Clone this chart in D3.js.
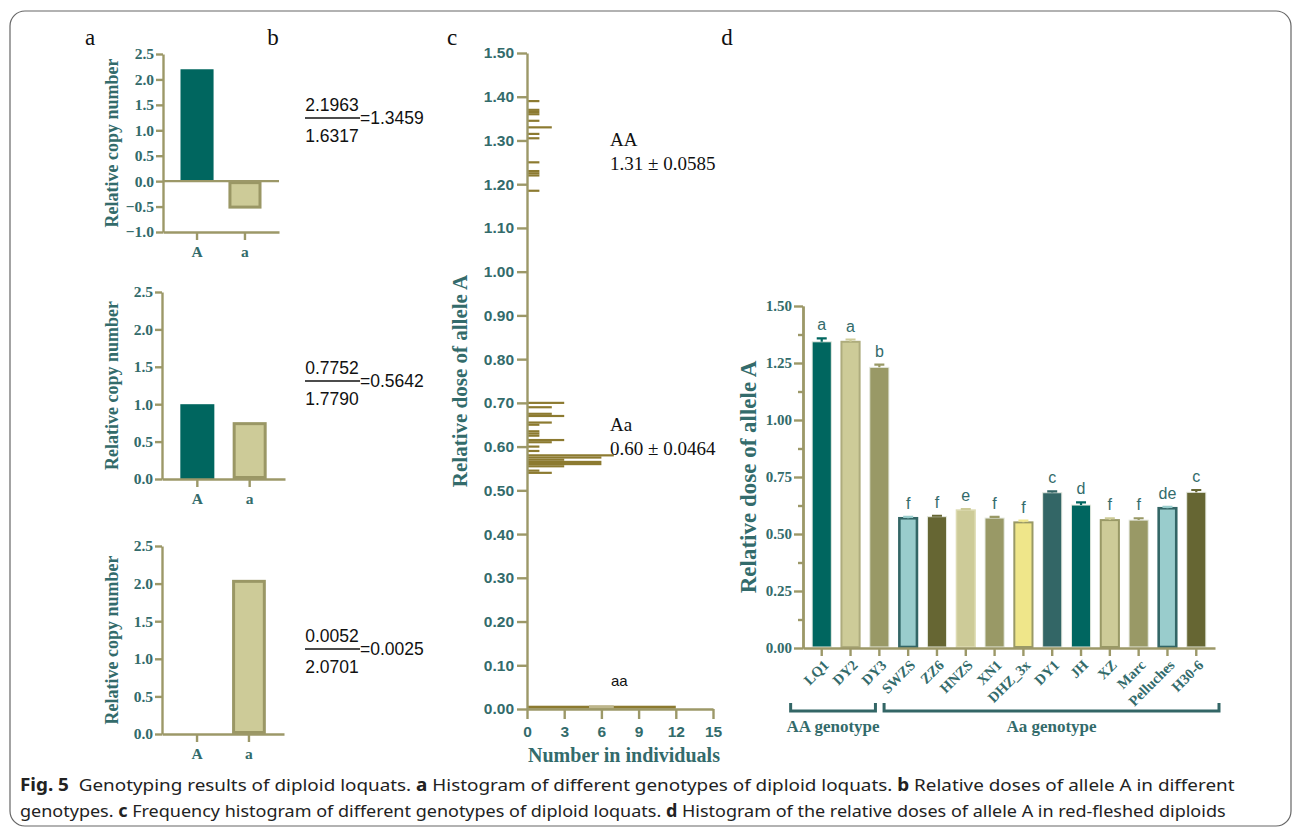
<!DOCTYPE html>
<html>
<head>
<meta charset="utf-8">
<script src="https://cdn.jsdelivr.net/npm/d3@7"></script>
<style>
  body { margin: 0; background: #fff; }
  svg { display: block; }
</style>
</head>
<body>
<svg id="fig" width="1295" height="829"></svg>
<script>
// ---------- data ----------
const genes = ["A", "a"];
const copyAA = [2.2, -0.54];
const copyAa = [1.0, 0.76];
const copyaa = [0, 2.05];

const ratioNum = ["2.1963", "0.7752", "0.0052"];
const ratioDen = ["1.6317", "1.7790", "2.0701"];
const ratioVal = ["1.3459", "0.5642", "0.0025"];

// frequency histogram (panel c): dose bin -> number of individuals
const histDose = [1.39, 1.37, 1.365, 1.36, 1.345, 1.33, 1.315, 1.305, 1.25, 1.23, 1.225, 1.22, 1.185,
  0.70, 0.69, 0.675, 0.67, 0.655, 0.65, 0.635, 0.63, 0.625, 0.615, 0.61, 0.60, 0.59, 0.58, 0.575,
  0.57, 0.565, 0.56, 0.555, 0.545, 0.54,
  0.005];
const histCount = [1, 1, 1, 1, 1, 2, 1, 1, 1, 1, 1, 1, 1,
  3, 2, 2, 3, 2, 1, 1, 1, 1, 3, 2, 1, 1, 7, 6,
  3, 6, 6, 3, 1, 2,
  12];
const aaLight = [5, 7];
const genoNames = ["AA", "Aa"];
const genoStats = ["1.31 \u00b1 0.0585", "0.60 \u00b1 0.0464"];
const genoAt = [1.294, 0.643];

// panel d
const cultivars = ["LQ1", "DY2", "DY3", "SWZS", "ZZ6", "HNZS", "XN1", "DHZ_3x", "DY1", "JH", "XZ", "Marc", "Pelluches", "H30-6"];
const doseMean = [1.343, 1.343, 1.231, 0.569, 0.576, 0.605, 0.570, 0.551, 0.681, 0.627, 0.561, 0.561, 0.613, 0.683];
const doseErr = [0.015, 0.010, 0.012, 0.006, 0.004, 0.004, 0.005, 0.008, 0.006, 0.012, 0.008, 0.008, 0.006, 0.010];
const sigLetters = ["a", "a", "b", "f", "f", "e", "f", "f", "c", "d", "f", "f", "de", "c"];
const groupNames = ["AA genotype", "Aa genotype"];
const groupFirst = ["LQ1", "SWZS"];
const groupLast = ["DY3", "H30-6"];

// ---------- style ----------
const TEAL = "#336b6b";
const AXIS = "#9c9868";
const HIST = "#8c7a30";
const SERIF = "'Liberation Serif', 'Times New Roman', serif";
const SANS = "'Liberation Sans', Arial, sans-serif";
const barFill = ["#00665f", "#cdcb98", "#999966", "#99cccc", "#666633", "#cdcb98", "#999966",
  "#efe68a", "#336666", "#006660", "#cdcb98", "#999966", "#99cccc", "#666633"];
const barStroke = ["#e6eae0", "#aeac7d", "#e6eae0", "#336666", "#e6eae0", "#dddbb2", "#e6eae0",
  "#999966", "#e6eae0", "#e6eae0", "#999966", "#e6eae0", "#336666", "#e6eae0"];
const barStrokeW = [1, 2, 1, 2.6, 1, 1.5, 1, 2, 1, 1, 2, 1, 2.6, 1];

const svg = d3.select("#fig");

function styleAxis(g, fontFamily, size) {
  g.select(".domain").attr("stroke", AXIS).attr("stroke-width", 2.4);
  g.selectAll(".tick line").attr("stroke", AXIS).attr("stroke-width", 2.4);
  g.selectAll(".tick text")
    .attr("fill", TEAL)
    .attr("font-family", fontFamily)
    .attr("font-weight", "bold")
    .attr("font-size", size);
}

// frame
svg.append("rect")
  .attr("x", 10).attr("y", 11)
  .attr("width", 1281).attr("height", 815)
  .attr("rx", 15)
  .attr("fill", "none")
  .attr("stroke", "#666")
  .attr("stroke-width", 1.2);

// panel letters
[["a", 90], ["b", 273], ["c", 452], ["d", 727]].forEach(([t, x]) => {
  svg.append("text").attr("x", x).attr("y", 45)
    .attr("text-anchor", "middle")
    .attr("font-family", SERIF).attr("font-size", 23)
    .attr("fill", "#111").text(t);
});

// ---------- panel a ----------
function copyPanel(vals, o) {
  const y = d3.scaleLinear().domain(o.dom).range([o.yBot, o.yTop]);
  const x = d3.scaleBand().domain(genes).range([o.x0, o.x1])
    .paddingInner(o.pi).paddingOuter(o.po);
  const g = svg.append("g");

  g.selectAll("rect.bar").data(vals).join("rect")
    .attr("class", "bar")
    .attr("x", (d, i) => x(genes[i]) + (i ? 1.5 : 0))
    .attr("width", (d, i) => x.bandwidth() - (i ? 3 : 0))
    .attr("y", (d, i) => Math.min(y(d), y(0)) + (i ? 1.5 : 0))
    .attr("height", (d, i) => Math.max(0, Math.abs(y(d) - y(0)) - (i ? 3 : 0)))
    .attr("fill", (d, i) => i ? "#cdcb98" : "#00665f")
    .attr("stroke", (d, i) => i ? "#9a9765" : "none")
    .attr("stroke-width", 3);

  if (o.dom[0] < 0) {
    g.append("line")
      .attr("x1", o.x0).attr("x2", o.x1)
      .attr("y1", y(0)).attr("y2", y(0))
      .attr("stroke", AXIS).attr("stroke-width", 2.4);
  }

  g.append("g")
    .attr("transform", `translate(${o.x0},0)`)
    .call(d3.axisLeft(y).tickValues(d3.range(o.dom[0], o.dom[1] + 0.01, 0.5))
      .tickFormat(d3.format(".1f")).tickSize(7).tickSizeOuter(0).tickPadding(2))
    .call(a => styleAxis(a, SERIF, 15.5));

  g.append("g")
    .attr("transform", `translate(0,${y(o.dom[0])})`)
    .call(d3.axisBottom(x).tickSize(8).tickSizeOuter(0).tickPadding(6))
    .call(a => styleAxis(a, SERIF, 15.5));

  g.append("text")
    .attr("transform", `translate(112,${(o.yTop + o.yBot) / 2}) rotate(-90)`)
    .attr("text-anchor", "middle").attr("dy", "0.35em")
    .attr("font-family", SERIF).attr("font-weight", "bold").attr("font-size", 18)
    .attr("fill", TEAL).text("Relative copy number");
}

copyPanel(copyAA, { dom: [-1, 2.5], yTop: 54, yBot: 232, x0: 163, x1: 279, pi: 0.31, po: 0.365 });
copyPanel(copyAa, { dom: [0, 2.5], yTop: 292, yBot: 479, x0: 162, x1: 285, pi: 0.35, po: 0.35 });
copyPanel(copyaa, { dom: [0, 2.5], yTop: 546, yBot: 734, x0: 162, x1: 284, pi: 0.35, po: 0.35 });

// ---------- panel b ----------
const ratioTop = [105, 368, 636];
ratioTop.forEach((n, i) => {
  const g = svg.append("g").attr("font-family", SANS).attr("font-size", 17.5).attr("fill", "#111");
  g.append("text").attr("x", 332).attr("y", n + 6).attr("text-anchor", "middle").text(ratioNum[i]);
  g.append("line").attr("x1", 305).attr("x2", 360).attr("y1", n + 13).attr("y2", n + 13)
    .attr("stroke", "#111").attr("stroke-width", 1.6);
  g.append("text").attr("x", 332).attr("y", n + 37).attr("text-anchor", "middle").text(ratioDen[i]);
  g.append("text").attr("x", 360).attr("y", n + 19).text("=" + ratioVal[i]);
});

// ---------- panel c ----------
const yc = d3.scaleLinear().domain([0, 1.5]).range([709, 53]);
const xc = d3.scaleLinear().domain([0, 15]).range([527, 713]);
const binH = yc(0) - yc(0.005);
const gc = svg.append("g");

gc.selectAll("rect.hist").data(histDose).join("rect")
  .attr("class", "hist")
  .attr("x", xc(0))
  .attr("y", d => yc(d) - binH / 2)
  .attr("width", (d, i) => xc(histCount[i]) - xc(0))
  .attr("height", (d, i) => histDose[i] < 0.05 ? 3 : binH)
  .attr("fill", HIST);

gc.append("rect")
  .attr("x", xc(aaLight[0])).attr("width", xc(aaLight[1]) - xc(aaLight[0]))
  .attr("y", yc(0.005) - 1.5).attr("height", 3)
  .attr("fill", "#bdb68c");

gc.append("g").attr("transform", `translate(${xc(0)},0)`)
  .call(d3.axisLeft(yc).tickValues(d3.range(0, 1.501, 0.1)).tickFormat(d3.format(".2f"))
    .tickSize(10).tickSizeOuter(0).tickPadding(3))
  .call(a => styleAxis(a, SANS, 15.5));

gc.append("g").attr("transform", `translate(0,${yc(0)})`)
  .call(d3.axisBottom(xc).tickValues(d3.range(0, 16, 3)).tickSize(10).tickSizeOuter(0).tickPadding(7))
  .call(a => styleAxis(a, SANS, 15.5));

gc.append("text")
  .attr("x", (xc(0) + xc(15)) / 2 + 4).attr("y", 762)
  .attr("text-anchor", "middle")
  .attr("font-family", SERIF).attr("font-weight", "bold").attr("font-size", 20)
  .attr("fill", TEAL).text("Number in individuals");

gc.append("text")
  .attr("transform", `translate(460,${(yc(0) + yc(1.5)) / 2}) rotate(-90)`)
  .attr("text-anchor", "middle").attr("dy", "0.35em")
  .attr("font-family", SERIF).attr("font-weight", "bold").attr("font-size", 21)
  .attr("fill", TEAL).text("Relative dose of allele A");

genoNames.forEach((name, i) => {
  const y0 = yc(genoAt[i]);
  gc.append("text").attr("x", 610).attr("y", y0 + 3)
    .attr("font-family", SERIF).attr("font-size", 19).attr("fill", "#111").text(name);
  gc.append("text").attr("x", 610).attr("y", y0 + 27)
    .attr("font-family", SERIF).attr("font-size", 19).attr("fill", "#111").text(genoStats[i]);
});
gc.append("text").attr("x", 611).attr("y", 686)
  .attr("font-family", SANS).attr("font-size", 15).attr("fill", "#111").text("aa");

// ---------- panel d ----------
const yd = d3.scaleLinear().domain([0, 1.5]).range([648, 306]);
const xd = d3.scaleBand().domain(cultivars).range([803, 1215]).paddingInner(0.3).paddingOuter(0.3);
const gd = svg.append("g");

gd.selectAll("rect.dose").data(doseMean).join("rect")
  .attr("class", "dose")
  .attr("x", (d, i) => xd(cultivars[i]) + barStrokeW[i] / 2)
  .attr("width", (d, i) => xd.bandwidth() - barStrokeW[i])
  .attr("y", d => yd(d))
  .attr("height", d => yd(0) - yd(d) - 1)
  .attr("fill", (d, i) => barFill[i])
  .attr("stroke", (d, i) => barStroke[i])
  .attr("stroke-width", (d, i) => barStrokeW[i]);

// error bars
gd.selectAll("path.err").data(doseMean).join("path")
  .attr("class", "err")
  .attr("d", (d, i) => {
    const cx = xd(cultivars[i]) + xd.bandwidth() / 2;
    const top = yd(d + doseErr[i]);
    return `M${cx},${yd(d)}V${top}M${cx - 5},${top}H${cx + 5}`;
  })
  .attr("fill", "none")
  .attr("stroke", (d, i) => i === 3 || i === 12 ? "#99cccc" : barFill[i])
  .attr("stroke-width", 2.2);

gd.selectAll("text.sig").data(sigLetters).join("text")
  .attr("class", "sig")
  .attr("x", (d, i) => xd(cultivars[i]) + xd.bandwidth() / 2)
  .attr("y", (d, i) => yd(doseMean[i] + doseErr[i]) - 8)
  .attr("text-anchor", "middle")
  .attr("font-family", SANS).attr("font-size", 16)
  .attr("fill", TEAL).text(d => d);

gd.append("g").attr("transform", `translate(${xd.range()[0]},0)`)
  .call(d3.axisLeft(yd).tickValues(d3.range(0.125, 1.5, 0.25)).tickFormat("").tickSize(5).tickSizeOuter(0))
  .call(a => styleAxis(a, SERIF, 15));
gd.append("g").attr("transform", `translate(${xd.range()[0]},0)`)
  .call(d3.axisLeft(yd).tickValues(d3.range(0, 1.501, 0.25)).tickFormat(d3.format(".2f"))
    .tickSize(9).tickSizeOuter(0).tickPadding(2))
  .call(a => styleAxis(a, SERIF, 15));

const xAx = gd.append("g").attr("transform", `translate(0,${yd(0)})`)
  .call(d3.axisBottom(xd).tickSize(8).tickSizeOuter(0))
  .call(a => styleAxis(a, SERIF, 14.5));
xAx.selectAll(".tick text")
  .attr("text-anchor", "end")
  .attr("dy", 0)
  .attr("y", 0)
  .attr("transform", "translate(8,18) rotate(-45)");

gd.append("text")
  .attr("transform", `translate(748,${(yd(0) + yd(1.5)) / 2}) rotate(-90)`)
  .attr("text-anchor", "middle").attr("dy", "0.35em")
  .attr("font-family", SERIF).attr("font-weight", "bold").attr("font-size", 23)
  .attr("fill", TEAL).text("Relative dose of allele A");

// genotype brackets
const bracketY = 711;
groupNames.forEach((name, k) => {
  const xa = k === 0 ? xd(groupFirst[k]) - 21 : xd(groupFirst[k]) - 14;
  const xb = k === 0 ? xd(groupLast[k]) + xd.bandwidth() - 14 : 1219;
  gd.append("path")
    .attr("d", `M${xa},${bracketY - 8}V${bracketY}H${xb}V${bracketY - 8}`)
    .attr("fill", "none").attr("stroke", "#336666").attr("stroke-width", 3);
  gd.append("text")
    .attr("x", (xa + xb) / 2).attr("y", 732)
    .attr("text-anchor", "middle")
    .attr("font-family", SERIF).attr("font-weight", "bold").attr("font-size", 17)
    .attr("fill", TEAL).text(name);
});

// ---------- caption ----------
const capLines = [
  [["Fig. 5", true], ["  Genotyping results of diploid loquats. ", false], ["a", true],
   [" Histogram of different genotypes of diploid loquats. ", false], ["b", true],
   [" Relative doses of allele A in different", false]],
  [["genotypes. ", false], ["c", true],
   [" Frequency histogram of different genotypes of diploid loquats. ", false], ["d", true],
   [" Histogram of the relative doses of allele A in red-fleshed diploids", false]]
];
const capEnd = [1235, 1226];
const capY = [791, 817];
capLines.forEach((parts, i) => {
  const t = svg.append("text")
    .attr("x", 20).attr("y", capY[i])
    .attr("font-family", "'Noto Sans', 'Open Sans', sans-serif")
    .attr("font-size", 17).attr("fill", "#222")
    .style("white-space", "pre");
  parts.forEach(([s, b]) => t.append("tspan").attr("font-weight", b ? "bold" : "normal").text(s));
  const w = t.node().getComputedTextLength();
  const k = (capEnd[i] - 20) / w;
  t.attr("transform", `translate(20,0) scale(${k},1) translate(-20,0)`);
});
</script>
</body>
</html>
